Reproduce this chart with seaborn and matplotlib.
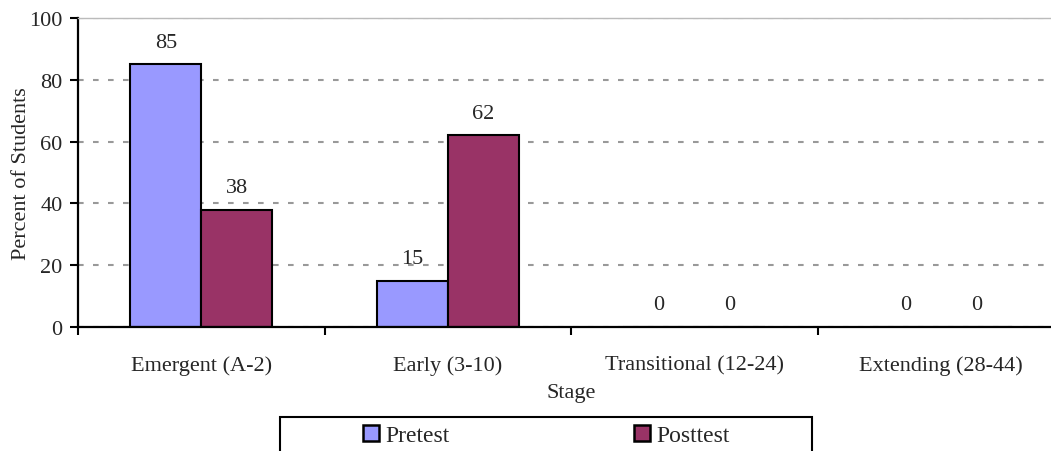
import pandas as pd
import matplotlib.pyplot as plt
import matplotlib.patches as mpatches
import seaborn as sns

# Data
stages = ['Emergent (A-2)', 'Early (3-10)', 'Transitional (12-24)', 'Extending (28-44)']
pretest = [85, 15, 0, 0]
posttest = [38, 62, 0, 0]
tests = ['Pretest', 'Posttest']
colors = ['#9999FF', '#993366']

sns.set_theme(style='white')
plt.rcParams['font.family'] = ['Liberation Serif', 'DejaVu Serif']
plt.rcParams['font.size'] = 16

df = pd.DataFrame({
    'Stage': stages * 2,
    'Percent': pretest + posttest,
    'Test': [tests[0]] * len(stages) + [tests[1]] * len(stages),
})

fig = plt.figure(figsize=(10.51, 4.52), dpi=100)
W, H = 1051, 452
# plot area runs past the right edge like in the original
ax = fig.add_axes([78 / W, (H - 328) / H, 986 / W, 309 / H])

sns.barplot(data=df, x='Stage', y='Percent', hue='Test', palette=colors,
            width=0.576, gap=0, edgecolor='black', linewidth=1.5,
            saturation=1, ax=ax)

handles, labels = ax.get_legend_handles_labels()
ax.get_legend().remove()

for cont in ax.containers:
    ax.bar_label(cont, fmt='%d', padding=9, fontsize=16)

ax.set_xlim(-0.5, 3.5)
ax.set_ylim(0, 100)
ax.set_yticks([0, 20, 40, 60, 80, 100])
ax.set_ylabel('Percent of Students', fontsize=16, labelpad=-1)
ax.set_xlabel('Stage', fontsize=16, labelpad=6)

# ticks between categories, labels centered
ax.set_xticks([-0.5, 0.5, 1.5, 2.5, 3.5])
ax.set_xticklabels([])
ax.set_xticks(range(len(stages)), minor=True)
ax.set_xticklabels(stages, minor=True, fontsize=16)
ax.tick_params(axis='x', which='major', direction='out', length=6, width=1.5,
               bottom=True, color='black')
ax.tick_params(axis='x', which='minor', length=0, pad=20, bottom=True)
ax.tick_params(axis='y', direction='out', length=6, width=1.5, left=True,
               color='black', pad=5, labelsize=16)

ax.yaxis.grid(True, color='#999999', linewidth=1.5, linestyle=(0, (2.7, 4.5)))
ax.set_axisbelow(True)
for s in ['left', 'bottom']:
    ax.spines[s].set_color('black')
    ax.spines[s].set_linewidth(1.6)
ax.spines['top'].set_color('#bbbbbb')
ax.spines['top'].set_linewidth(1)
ax.spines['right'].set_visible(False)

# legend box, bottom cut off by the figure edge
fig.patches.append(mpatches.Rectangle((280 / W, -0.05), 532 / W, 0.05 + (H - 418) / H,
                                      transform=fig.transFigure, fill=False,
                                      edgecolor='black', linewidth=1.5))
for h in handles:
    h.set_edgecolor('black')
    h.set_linewidth(1.8)
fig.legend(handles, labels, loc='upper center', bbox_to_anchor=(546 / W, (H - 414) / H),
           ncol=2, frameon=False, fontsize=17, handlelength=0.7, handleheight=0.7,
           handletextpad=0.25, columnspacing=7.8, borderpad=0)

fig.savefig('out.png', dpi=100)
